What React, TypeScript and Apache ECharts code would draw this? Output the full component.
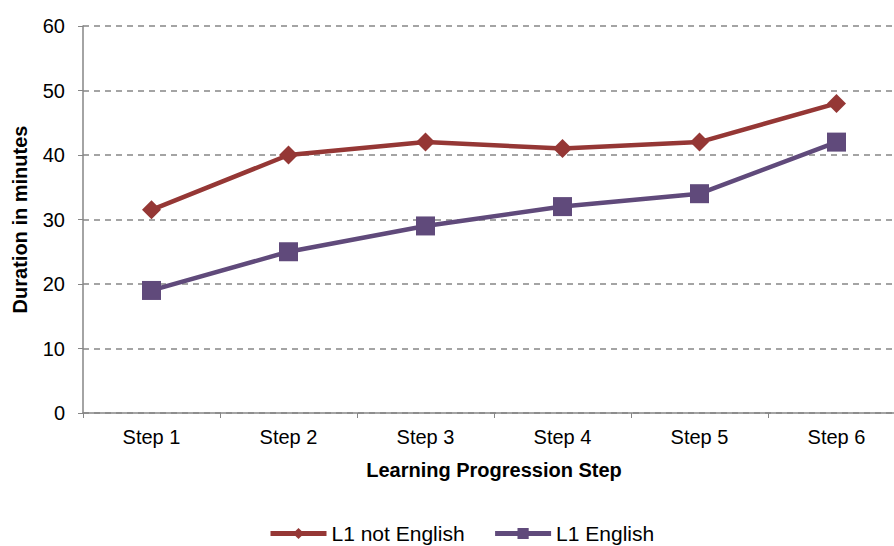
import React, { useEffect, useRef } from "react";
import * as echarts from "echarts";

const categories = ["Step 1", "Step 2", "Step 3", "Step 4", "Step 5", "Step 6"];
const notEnglish = [31.5, 40, 42, 41, 42, 48];
const english = [19, 25, 29, 32, 34, 42];
const seriesNames = ["L1 not English", "L1 English"];

export default function App() {
  const ref = useRef<HTMLDivElement>(null);
  useEffect(() => {
    const chart = echarts.init(ref.current!, null, { renderer: "svg" });
    const font = "Liberation Sans, Arial, sans-serif";
    chart.setOption({
      animation: false,
      textStyle: { fontFamily: font },
      grid: {
        left: 83,
        top: 26,
        right: -11,
        height: 387,
        containLabel: false,
        outerBoundsMode: "none",
      },
      legend: {
        top: 523,
        left: 268,
        padding: 0,
        itemWidth: 56,
        itemHeight: 14,
        itemGap: 28,
        lineStyle: { width: 5 },
        textStyle: { fontSize: 21, color: "#000", fontFamily: font },
        data: seriesNames,
      },
      xAxis: {
        type: "category",
        data: categories,
        boundaryGap: true,
        name: "Learning Progression Step",
        nameLocation: "middle",
        nameGap: 47,
        nameTextStyle: { fontSize: 20, fontWeight: "bold", color: "#000", fontFamily: font },
        axisLine: { lineStyle: { color: "#868686", width: 1.5 } },
        axisTick: { show: true, length: 5, lineStyle: { color: "#868686" } },
        axisLabel: { fontSize: 20, color: "#000", margin: 14, fontFamily: font },
      },
      yAxis: {
        type: "value",
        min: 0,
        max: 60,
        interval: 10,
        name: "Duration in minutes",
        nameLocation: "middle",
        nameGap: 53,
        nameTextStyle: { fontSize: 20, fontWeight: "bold", color: "#000", fontFamily: font },
        axisLine: { show: true, lineStyle: { color: "#868686", width: 1.5 } },
        axisTick: { show: true, length: 5, lineStyle: { color: "#868686" } },
        axisLabel: { fontSize: 20, color: "#000", margin: 18, fontFamily: font },
        splitLine: { lineStyle: { color: "#868686", type: [6, 5], width: 1.5 } },
      },
      series: [
        {
          name: seriesNames[0],
          type: "line",
          data: notEnglish,
          symbol: "diamond",
          symbolSize: 19,
          lineStyle: { color: "#953735", width: 4.5 },
          itemStyle: { color: "#953735" },
        },
        {
          name: seriesNames[1],
          type: "line",
          data: english,
          symbol: "rect",
          symbolSize: 19,
          lineStyle: { color: "#604A7B", width: 4.5 },
          itemStyle: { color: "#604A7B" },
        },
      ],
    });
    return () => chart.dispose();
  }, []);
  return (
    <div
      ref={ref}
      style={{ position: "fixed", left: 0, top: 0, width: 894, height: 546, background: "#fff" }}
    />
  );
}
